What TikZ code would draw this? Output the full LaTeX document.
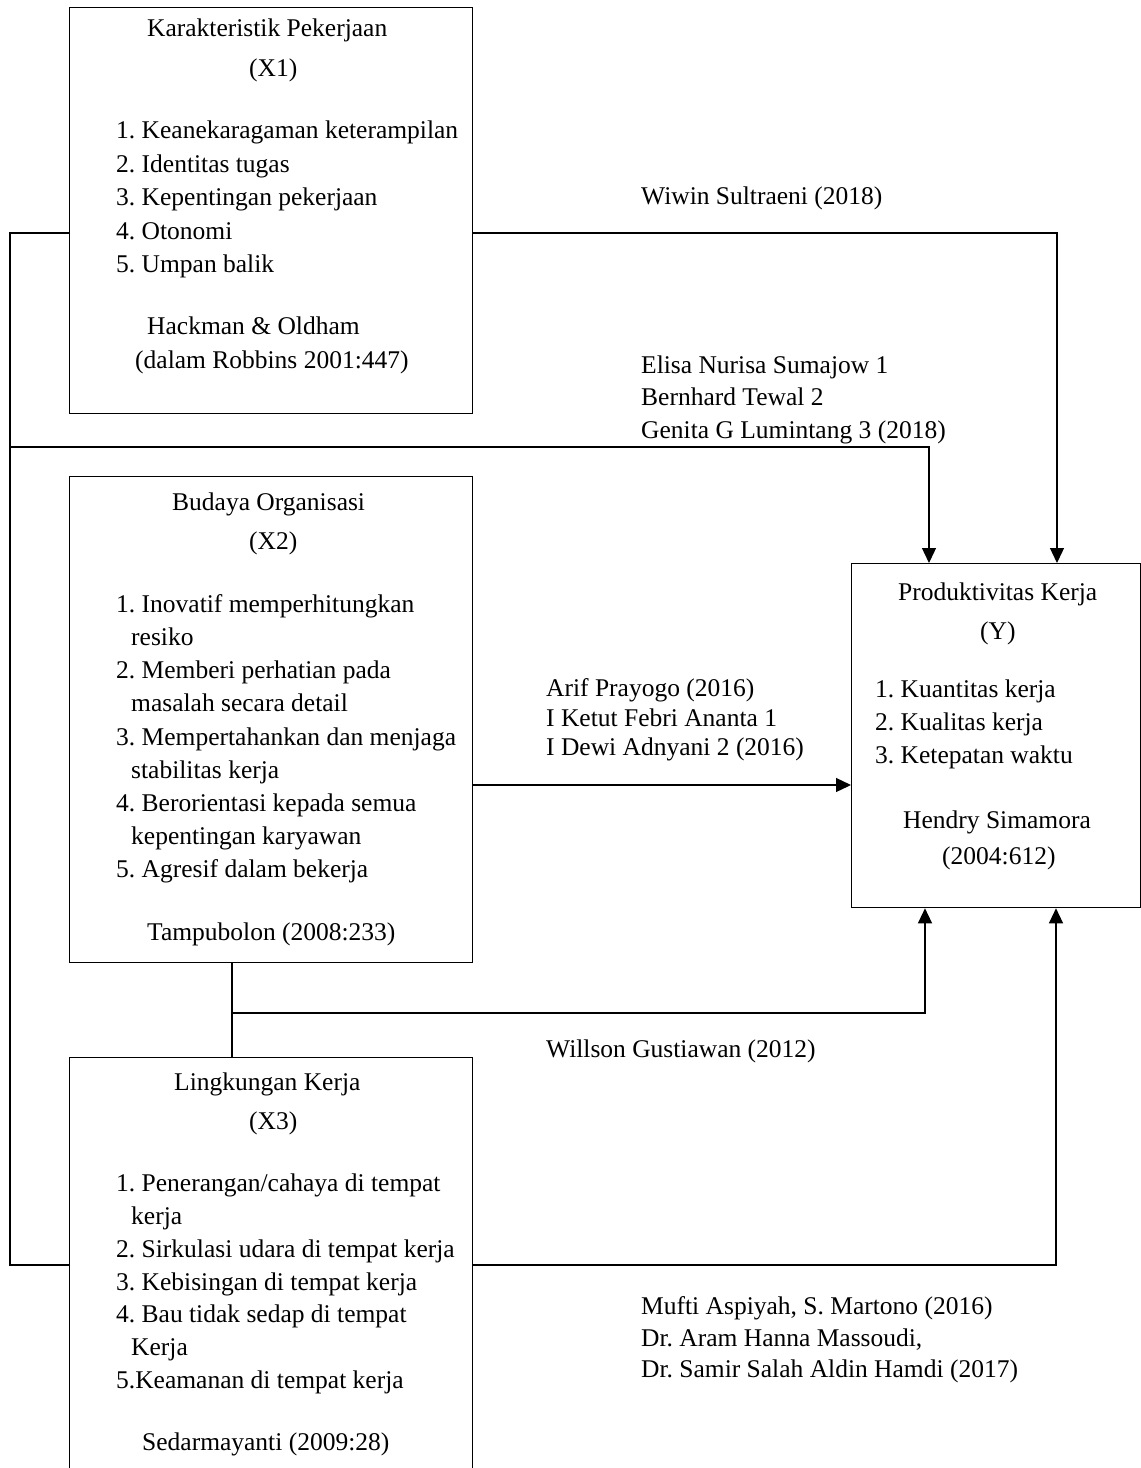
\documentclass[tikz,border=0pt]{standalone}
\usepackage{fontspec}
\setmainfont{Liberation Serif}
\usetikzlibrary{arrows.meta,positioning}
\frenchspacing

\tikzset{
  box/.style={draw,line width=1.3pt,anchor=north west,inner sep=0pt,minimum width=403pt},
  txt/.style={inner sep=0pt,anchor=base west,font=\fontsize{25.5}{30}\selectfont},
  link/.style={line width=1.3pt},
  arr/.style={link,-{Triangle[width=14pt,length=15pt]}}
}

\begin{document}
\begin{tikzpicture}[x=1pt,y=-1pt]
\clip (0,0) rectangle (1141,1468);

% boxes
\node[box,minimum height=406pt] (x1) at (69,7) {};
\node[box,minimum height=486pt] (x2) at (69,476) {};
\node[box,minimum height=416pt] (x3) at (69,1057) {};
\node[box,minimum width=289pt,minimum height=344pt] (y) at (851,563) {};

% X1
\node[txt] (x1t) at (147,36) {Karakteristik Pekerjaan};
\node[txt] (x1s) at (249,76) {(X1)};
\node[txt] (x1a) at (116,138) {1. Keanekaragaman keterampilan};
\node[txt] (x1b) at (116,172) {2. Identitas tugas};
\node[txt] (x1c) at (116,205) {3. Kepentingan pekerjaan};
\node[txt] (x1d) at (116,239) {4. Otonomi};
\node[txt] (x1e) at (116,272) {5. Umpan balik};
\node[txt] (x1r) at (147,334) {Hackman \& Oldham};
\node[txt] (x1q) at (135,368) {(dalam Robbins 2001:447)};

% X2
\node[txt] (x2t) at (172,510) {Budaya Organisasi};
\node[txt] (x2s) at (249,549) {(X2)};
\node[txt] (x2a) at (116,612) {1. Inovatif memperhitungkan};
\node[txt] (x2a2) at (131,645) {resiko};
\node[txt] (x2b) at (116,678) {2. Memberi perhatian pada};
\node[txt] (x2b2) at (131,711) {masalah secara detail};
\node[txt] (x2c) at (116,745) {3. Mempertahankan dan menjaga};
\node[txt] (x2c2) at (131,778) {stabilitas kerja};
\node[txt] (x2d) at (116,811) {4. Berorientasi kepada semua};
\node[txt] (x2d2) at (131,844) {kepentingan karyawan};
\node[txt] (x2e) at (116,877) {5. Agresif dalam bekerja};
\node[txt] (x2r) at (147,940) {Tampubolon (2008:233)};

% X3
\node[txt] (x3t) at (174,1090) {Lingkungan Kerja};
\node[txt] (x3s) at (249,1129) {(X3)};
\node[txt] (x3a) at (116,1191) {1. Penerangan/cahaya di tempat};
\node[txt] (x3a2) at (131,1224) {kerja};
\node[txt] (x3b) at (116,1257) {2. Sirkulasi udara di tempat kerja};
\node[txt] (x3c) at (116,1290) {3. Kebisingan di tempat kerja};
\node[txt] (x3d) at (116,1322) {4. Bau tidak sedap di tempat};
\node[txt] (x3d2) at (131,1355) {Kerja};
\node[txt] (x3e) at (116,1388) {5.Keamanan di tempat kerja};
\node[txt] (x3r) at (142,1450) {Sedarmayanti (2009:28)};

% Y
\node[txt] (yt) at (898,600) {Produktivitas Kerja};
\node[txt] (ys) at (980,639) {(Y)};
\node[txt] (ya) at (875,697) {1. Kuantitas kerja};
\node[txt] (yb) at (875,730) {2. Kualitas kerja};
\node[txt] (yc) at (875,763) {3. Ketepatan waktu};
\node[txt] (yr) at (903,828) {Hendry Simamora};
\node[txt] (yq) at (942,864) {(2004:612)};

% labels on the links
\node[txt] (l1) at (641,204) {Wiwin Sultraeni (2018)};
\node[txt] (l2a) at (641,373) {Elisa Nurisa Sumajow 1};
\node[txt] (l2b) at (641,405) {Bernhard Tewal 2};
\node[txt] (l2c) at (641,438) {Genita G Lumintang 3 (2018)};
\node[txt] (l3a) at (546,696) {Arif Prayogo (2016)};
\node[txt] (l3b) at (546,726) {I Ketut Febri Ananta 1};
\node[txt] (l3c) at (546,755) {I Dewi Adnyani 2 (2016)};
\node[txt] (l4) at (546,1057) {Willson Gustiawan (2012)};
\node[txt] (l5a) at (641,1314) {Mufti Aspiyah, S. Martono (2016)};
\node[txt] (l5b) at (641,1346) {Dr. Aram Hanna Massoudi,};
\node[txt] (l5c) at (641,1377) {Dr. Samir Salah Aldin Hamdi (2017)};

% bends
\coordinate (busT) at (10,233);
\coordinate (busM) at (10,447);
\coordinate (busB) at (10,1265);
\coordinate (c1) at (1057,233);
\coordinate (c2) at (929,447);
\coordinate (c3) at (0,785);
\coordinate (j23) at (232,1013);
\coordinate (c4) at (925,1013);
\coordinate (c5) at (1056,1265);

% links
\draw[arr] (x1.east |- c1) -- (c1) -- (c1 |- y.north);
\draw[link] (x1.west |- busT) -- (busT) -- (busB) -- (busB -| x3.west);
\draw[arr] (busM) -- (c2) -- (c2 |- y.north);
\draw[arr] (x2.east |- c3) -- (y.west |- c3);
\draw[link] (j23 |- x2.south) -- (j23 |- x3.north);
\draw[arr] (j23) -- (c4) -- (c4 |- y.south);
\draw[arr] (x3.east |- c5) -- (c5) -- (c5 |- y.south);
\end{tikzpicture}
\end{document}
